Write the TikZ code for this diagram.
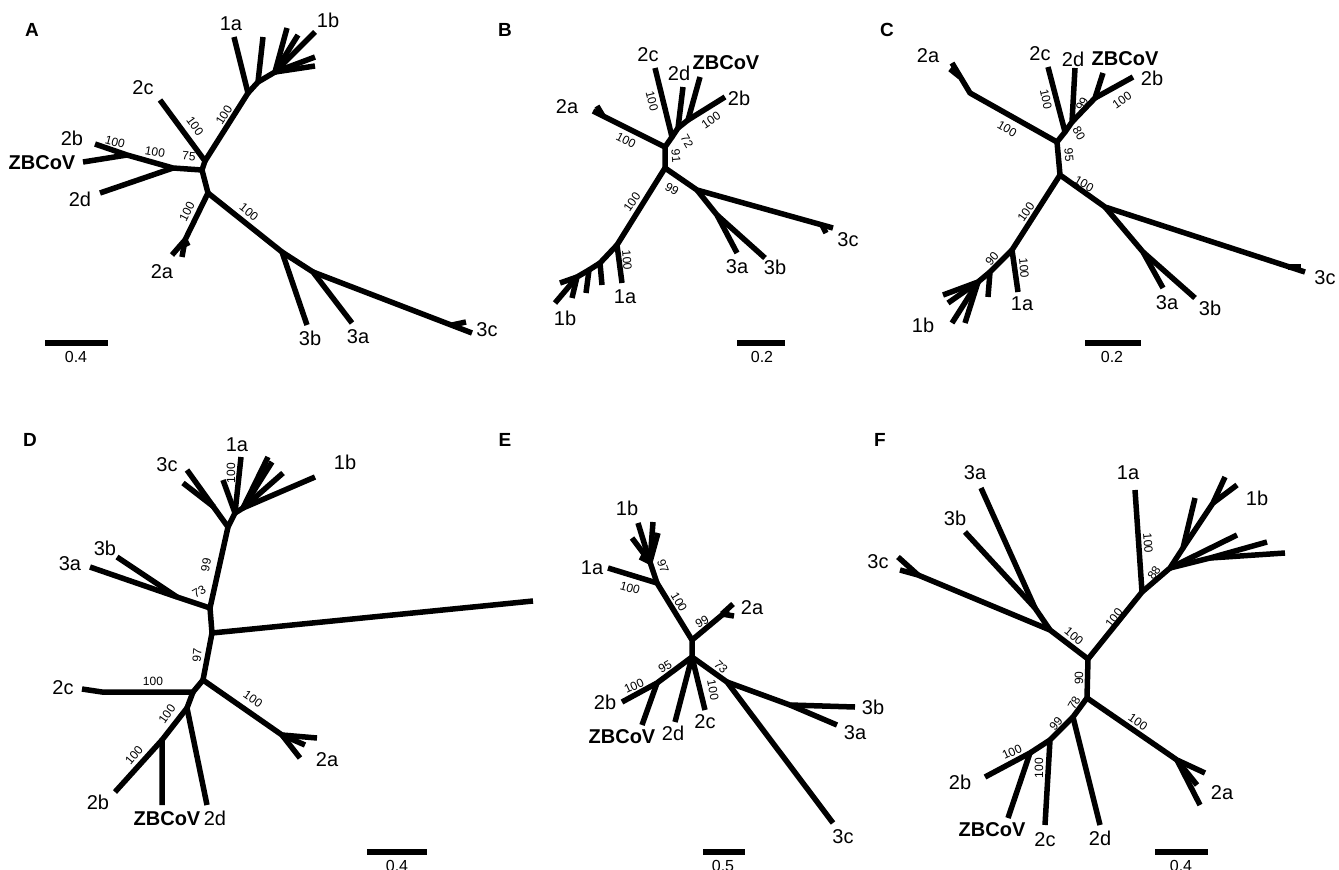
\documentclass[tikz,border=0pt]{standalone}
\usepackage{fontspec}
\setmainfont{Liberation Sans}
\begin{document}
\begin{tikzpicture}[x=1pt,y=-1pt,
 br/.style={line width=5.5pt, line cap=butt, line join=round},
 tl/.style={font=\fontsize{20}{22}\selectfont, inner sep=1pt},
 zb/.style={font=\bfseries\fontsize{20}{22}\selectfont, inner sep=1pt},
 bs/.style={font=\fontsize{12}{13}\selectfont, inner sep=0pt},
 pl/.style={font=\bfseries\fontsize{19}{21}\selectfont, inner sep=0pt},
 sbar/.style={line width=5.5pt},
 sl/.style={font=\fontsize{16}{17}\selectfont, inner sep=0pt}]
\useasboundingbox[fill=white] (0,0) rectangle (1339,870);

% ================= Panel A =================
\coordinate (Aj1) at (205,161); \coordinate (Aj2) at (202,170); \coordinate (Aj3) at (208,193);
\coordinate (A2c) at (160,100); \coordinate (Aj4) at (248,93); \coordinate (A1a) at (234,37);
\coordinate (Aj5) at (258,82); \coordinate (A1x) at (263,37); \coordinate (Aj6) at (275,72);
\coordinate (A1b1) at (287,28); \coordinate (A1b2) at (298,35); \coordinate (A1b3) at (315,32);
\coordinate (A1b4) at (315,57); \coordinate (A1b5) at (315,66);
\coordinate (Aj7) at (173,168); \coordinate (Aj8) at (127,155); \coordinate (A2b) at (95,144);
\coordinate (AZB) at (83,162); \coordinate (A2d) at (100,193);
\coordinate (Aj9) at (185,240); \coordinate (A2a1) at (172,255); \coordinate (A2a2) at (182,257); \coordinate (A2a3) at (188,246);
\coordinate (Aj10) at (282,252); \coordinate (A3b) at (307,325); \coordinate (Aj11) at (313,272);
\coordinate (A3a) at (352,323); \coordinate (A3c) at (472,333); \coordinate (Aj12) at (452,325); \coordinate (A3cx) at (466,322);
\draw[br] (A2c) -- (Aj1) -- (Aj4) -- (A1a);
\draw[br] (Aj4) -- (Aj5) -- (A1x);
\draw[br] (Aj5) -- (Aj6) -- (A1b1);
\draw[br] (Aj6) -- (A1b2); \draw[br] (Aj6) -- (A1b3); \draw[br] (Aj6) -- (A1b4); \draw[br] (Aj6) -- (A1b5);
\draw[br] (Aj1) -- (Aj2) -- (Aj3);
\draw[br] (Aj2) -- (Aj7) -- (Aj8) -- (A2b); \draw[br] (Aj8) -- (AZB); \draw[br] (Aj7) -- (A2d);
\draw[br] (Aj3) -- (Aj9) -- (A2a1); \draw[br] (Aj9) -- (A2a2); \draw[br] (Aj9) -- (A2a3);
\draw[br] (Aj3) -- (Aj10) -- (A3b); \draw[br] (Aj10) -- (Aj11) -- (A3a); \draw[br] (Aj11) -- (A3c); \draw[br] (Aj12) -- (A3cx);
\node[pl] (Apl) at (32,30) {A};
\node[tl] (Al1a) at (231,24) {1a}; \node[tl] (Al1b) at (328,20) {1b}; \node[tl] (Al2c) at (143,88) {2c};
\node[tl] (Al2b) at (72,138) {2b}; \node[zb] (AlZB) at (42,163) {ZBCoV}; \node[tl] (Al2d) at (80,199) {2d};
\node[tl] (Al2a) at (162,272) {2a}; \node[tl] (Al3b) at (310,338) {3b}; \node[tl] (Al3a) at (358,337) {3a}; \node[tl] (Al3c) at (487,330) {3c};
\node[bs,rotate=58] (Ab1) at (224,115) {100}; \node[bs,rotate=-54] (Ab2) at (195,126) {100};
\node[bs,rotate=-5] (Ab3) at (189,156) {75}; \node[bs,rotate=-10] (Ab4) at (155,152) {100};
\node[bs,rotate=-15] (Ab5) at (115,142) {100}; \node[bs,rotate=63] (Ab6) at (187,212) {100};
\node[bs,rotate=-39] (Ab7) at (249,212) {100};
\coordinate (As1) at (45,343); \coordinate (As2) at (108,343);
\draw[sbar] (As1) -- (As2); \node[sl] (Asl) at (76,357) {0.4};

% ================= Panel B =================
\coordinate (Bj1) at (665,147); \coordinate (B2a) at (593,111); \coordinate (Bf) at (603,116); \coordinate (B2ax) at (597,106);
\coordinate (Bj2) at (672,137); \coordinate (B2c) at (655,68); \coordinate (Bj3) at (678,128); \coordinate (B2d) at (683,87);
\coordinate (Bj4) at (688,120); \coordinate (BZB) at (700,77); \coordinate (B2b) at (725,97);
\coordinate (Bj5) at (665,168); \coordinate (Bj6) at (697,190); \coordinate (B3c) at (833,228);
\coordinate (Bf2) at (822,225); \coordinate (B3cx) at (826,233);
\coordinate (Bj7) at (717,215); \coordinate (B3a) at (737,253); \coordinate (B3b) at (765,258);
\coordinate (Bj8) at (617,245); \coordinate (B1a) at (622,283);
\coordinate (Bj9) at (600,263); \coordinate (B1x1) at (602,285);
\coordinate (Bj10) at (589,270); \coordinate (B1x2) at (586,293);
\coordinate (Bj11) at (577,277); \coordinate (B1b1) at (572,298); \coordinate (B1b2) at (555,303); \coordinate (B1b3) at (560,283);
\draw[br] (B2a) -- (Bj1) -- (Bj2) -- (B2c); \draw[br] (Bf) -- (B2ax);
\draw[br] (Bj2) -- (Bj3) -- (B2d); \draw[br] (Bj3) -- (Bj4) -- (BZB); \draw[br] (Bj4) -- (B2b);
\draw[br] (Bj1) -- (Bj5) -- (Bj6) -- (B3c); \draw[br] (Bf2) -- (B3cx);
\draw[br] (Bj6) -- (Bj7) -- (B3a); \draw[br] (Bj7) -- (B3b);
\draw[br] (Bj5) -- (Bj8) -- (B1a);
\draw[br] (Bj8) -- (Bj9) -- (B1x1); \draw[br] (Bj9) -- (Bj10) -- (B1x2);
\draw[br] (Bj10) -- (Bj11) -- (B1b1); \draw[br] (Bj11) -- (B1b2); \draw[br] (Bj11) -- (B1b3);
\node[pl] (Bpl) at (505,30) {B};
\node[tl] (Bl2c) at (648,55) {2c}; \node[tl] (Bl2d) at (679,73) {2d}; \node[zb] (BlZB) at (726,63) {ZBCoV};
\node[tl] (Bl2b) at (739,98) {2b}; \node[tl] (Bl2a) at (567,107) {2a}; \node[tl] (Bl3c) at (848,240) {3c};
\node[tl] (Bl3a) at (737,267) {3a}; \node[tl] (Bl3b) at (775,267) {3b}; \node[tl] (Bl1a) at (625,297) {1a}; \node[tl] (Bl1b) at (565,318) {1b};
\node[bs,rotate=-76] (Bb1) at (652,101) {100}; \node[bs,rotate=-27] (Bb2) at (626,140) {100};
\node[bs,rotate=-60] (Bb3) at (687,141) {72}; \node[bs,rotate=35] (Bb4) at (711,120) {100};
\node[bs,rotate=-85] (Bb5) at (676,156) {91}; \node[bs,rotate=-30] (Bb6) at (672,189) {99};
\node[bs,rotate=55] (Bb7) at (632,202) {100}; \node[bs,rotate=-85] (Bb8) at (627,260) {100};
\coordinate (Bs1) at (737,343); \coordinate (Bs2) at (785,343);
\draw[sbar] (Bs1) -- (Bs2); \node[sl] (Bsl) at (762,357) {0.2};

% ================= Panel C =================
\coordinate (Cj1) at (1057,142); \coordinate (Cb) at (970,93); \coordinate (C2a) at (952,63);
\coordinate (Cbb) at (960,77); \coordinate (C2ax) at (950,69);
\coordinate (Cj2) at (1065,132); \coordinate (C2c) at (1048,67); \coordinate (Cj3) at (1072,122); \coordinate (C2d) at (1075,68);
\coordinate (Cj4) at (1095,98); \coordinate (CZB) at (1103,73); \coordinate (C2b) at (1133,77);
\coordinate (Cj5) at (1060,175); \coordinate (Cj6) at (1105,207); \coordinate (C3c) at (1305,272);
\coordinate (Cf) at (1288,267); \coordinate (C3cx) at (1301,267);
\coordinate (Cj7) at (1143,252); \coordinate (C3a) at (1163,288); \coordinate (C3b) at (1195,298);
\coordinate (Cj8) at (1012,250); \coordinate (C1a) at (1018,292);
\coordinate (Cj9) at (990,272); \coordinate (C1x) at (988,297);
\coordinate (Cj10) at (978,282); \coordinate (C1b1) at (943,295); \coordinate (C1b2) at (948,303);
\coordinate (C1b3) at (952,323); \coordinate (C1b4) at (965,323);
\draw[br] (C2a) -- (Cb) -- (Cj1) -- (Cj2) -- (C2c); \draw[br] (Cbb) -- (C2ax);
\draw[br] (Cj2) -- (Cj3) -- (C2d); \draw[br] (Cj3) -- (Cj4) -- (CZB); \draw[br] (Cj4) -- (C2b);
\draw[br] (Cj1) -- (Cj5) -- (Cj6) -- (C3c); \draw[br] (Cf) -- (C3cx);
\draw[br] (Cj6) -- (Cj7) -- (C3a); \draw[br] (Cj7) -- (C3b);
\draw[br] (Cj5) -- (Cj8) -- (C1a); \draw[br] (Cj8) -- (Cj9) -- (C1x);
\draw[br] (Cj9) -- (Cj10) -- (C1b1); \draw[br] (Cj10) -- (C1b2); \draw[br] (Cj10) -- (C1b3); \draw[br] (Cj10) -- (C1b4);
\node[pl] (Cpl) at (887,30) {C};
\node[tl] (Cl2a) at (928,56) {2a}; \node[tl] (Cl2c) at (1040,54) {2c}; \node[tl] (Cl2d) at (1073,59) {2d};
\node[zb] (ClZB) at (1125,59) {ZBCoV}; \node[tl] (Cl2b) at (1152,78) {2b}; \node[tl] (Cl3c) at (1325,278) {3c};
\node[tl] (Cl3a) at (1167,303) {3a}; \node[tl] (Cl3b) at (1210,308) {3b}; \node[tl] (Cl1a) at (1022,304) {1a}; \node[tl] (Cl1b) at (923,325) {1b};
\node[bs,rotate=-30] (Cb1) at (1007,129) {100}; \node[bs,rotate=-78] (Cb2) at (1046,99) {100};
\node[bs,rotate=-60] (Cb3) at (1079,133) {80}; \node[bs,rotate=60] (Cb4) at (1082,104) {99};
\node[bs,rotate=35] (Cb5) at (1122,100) {100}; \node[bs,rotate=-85] (Cb6) at (1069,155) {95};
\node[bs,rotate=-30] (Cb7) at (1084,184) {100}; \node[bs,rotate=55] (Cb8) at (1026,212) {100};
\node[bs,rotate=-85] (Cb9) at (1024,268) {100}; \node[bs,rotate=50] (Cb10) at (992,259) {90};
\coordinate (Cs1) at (1085,343); \coordinate (Cs2) at (1141,343);
\draw[sbar] (Cs1) -- (Cs2); \node[sl] (Csl) at (1112,357) {0.2};

% ================= Panel D =================
\coordinate (Dj1) at (228,527); \coordinate (D3c1) at (187,470); \coordinate (Dj1a) at (214,507); \coordinate (D3c2) at (183,483);
\coordinate (Dj2) at (235,513); \coordinate (D1x) at (223,480); \coordinate (D1a) at (241,457);
\coordinate (Dj3) at (243,508); \coordinate (D1b1) at (268,457); \coordinate (D1b2) at (272,462);
\coordinate (D1b3) at (283,473); \coordinate (D1b4) at (315,477);
\coordinate (Dj4) at (210,608); \coordinate (D3a) at (90,567); \coordinate (Dj5) at (177,597); \coordinate (D3b) at (117,557);
\coordinate (Dj6) at (212,633); \coordinate (D1bl) at (533,601);
\coordinate (Dj7) at (203,680); \coordinate (Dj2a) at (282,735);
\coordinate (D2a1) at (317,738); \coordinate (D2a2) at (305,745); \coordinate (D2a3) at (300,758);
\coordinate (Dj8) at (193,692); \coordinate (Dk) at (102,692); \coordinate (D2c) at (82,689);
\coordinate (Dj9) at (187,708); \coordinate (D2d) at (207,805);
\coordinate (Dj10) at (162,740); \coordinate (DZB) at (162,805); \coordinate (D2b) at (115,792);
\draw[br] (D3c1) -- (Dj1) -- (Dj2) -- (D1a); \draw[br] (Dj1a) -- (D3c2); \draw[br] (Dj2) -- (D1x);
\draw[br] (Dj2) -- (Dj3) -- (D1b1); \draw[br] (Dj3) -- (D1b2); \draw[br] (Dj3) -- (D1b3); \draw[br] (Dj3) -- (D1b4);
\draw[br] (Dj1) -- (Dj4) -- (Dj5) -- (D3a); \draw[br] (Dj5) -- (D3b);
\draw[br] (Dj4) -- (Dj6) -- (D1bl); \draw[br] (Dj6) -- (Dj7) -- (Dj2a) -- (D2a1);
\draw[br] (Dj2a) -- (D2a2); \draw[br] (Dj2a) -- (D2a3);
\draw[br] (Dj7) -- (Dj8) -- (Dk) -- (D2c);
\draw[br] (Dj8) -- (Dj9) -- (D2d); \draw[br] (Dj9) -- (Dj10) -- (DZB); \draw[br] (Dj10) -- (D2b);
\node[pl] (Dpl) at (30,440) {D};
\node[tl] (Dl3c) at (167,465) {3c}; \node[tl] (Dl1a) at (237,445) {1a}; \node[tl] (Dl3b) at (105,548) {3b};
\node[tl] (Dl3a) at (70,564) {3a}; \node[tl] (Dl1b) at (345,462) {1b}; \node[tl] (Dl2c) at (63,688) {2c};
\node[tl] (Dl2a) at (327,760) {2a}; \node[tl] (Dl2b) at (98,802) {2b}; \node[zb] (DlZB) at (167,819) {ZBCoV}; \node[tl] (Dl2d) at (215,818) {2d};
\node[bs,rotate=90] (Db1) at (231,473) {100}; \node[bs,rotate=80] (Db2) at (206,565) {99};
\node[bs,rotate=30] (Db3) at (199,592) {73}; \node[bs,rotate=85] (Db4) at (197,655) {97};
\node[bs] (Db5) at (153,681) {100}; \node[bs,rotate=-35] (Db6) at (253,699) {100};
\node[bs,rotate=55] (Db7) at (167,714) {100}; \node[bs,rotate=50] (Db8) at (134,755) {100};
\coordinate (Ds1) at (367,852); \coordinate (Ds2) at (427,852);
\draw[sbar] (Ds1) -- (Ds2); \node[sl] (Dsl) at (397,866) {0.4};

% ================= Panel E =================
\coordinate (Ej1) at (692,640); \coordinate (Ej2) at (692,657); \coordinate (Ej3) at (657,583);
\coordinate (E2a) at (728,610); \coordinate (Ejf) at (722,614); \coordinate (E2a1) at (733,604); \coordinate (E2a2) at (734,616);
\coordinate (E1a) at (608,568); \coordinate (Ej4) at (650,562);
\coordinate (E1b1) at (638,523); \coordinate (E1b2) at (632,538); \coordinate (E1b3) at (653,522);
\coordinate (E1b4) at (658,533); \coordinate (E1b5) at (640,557);
\coordinate (Ej5) at (657,683); \coordinate (E2b) at (622,702); \coordinate (EZB) at (642,725);
\coordinate (E2d) at (675,722); \coordinate (E2c) at (705,710);
\coordinate (Ej6) at (727,682); \coordinate (E3c) at (833,823); \coordinate (Ej7) at (790,705);
\coordinate (E3b) at (855,707); \coordinate (E3a) at (837,725);
\draw[br] (Ej2) -- (Ej1) -- (Ej3) -- (E1a); \draw[br] (Ej1) -- (E2a); \draw[br] (Ejf) -- (E2a1); \draw[br] (Ejf) -- (E2a2);
\draw[br] (Ej3) -- (Ej4) -- (E1b1); \draw[br] (Ej4) -- (E1b2); \draw[br] (Ej4) -- (E1b3); \draw[br] (Ej4) -- (E1b4); \draw[br] (Ej4) -- (E1b5);
\draw[br] (Ej2) -- (Ej5) -- (E2b); \draw[br] (Ej5) -- (EZB);
\draw[br] (Ej2) -- (E2d); \draw[br] (Ej2) -- (E2c);
\draw[br] (Ej2) -- (Ej6) -- (E3c); \draw[br] (Ej6) -- (Ej7) -- (E3b); \draw[br] (Ej7) -- (E3a);
\node[pl] (Epl) at (505,440) {E};
\node[tl] (El1b) at (627,508) {1b}; \node[tl] (El1a) at (592,568) {1a}; \node[tl] (El2a) at (752,608) {2a};
\node[tl] (El2b) at (605,702) {2b}; \node[zb] (ElZB) at (622,737) {ZBCoV}; \node[tl] (El2d) at (673,733) {2d};
\node[tl] (El2c) at (705,722) {2c}; \node[tl] (El3b) at (873,707) {3b}; \node[tl] (El3a) at (855,733) {3a}; \node[tl] (El3c) at (843,837) {3c};
\node[bs,rotate=-70] (Eb1) at (663,566) {97}; \node[bs,rotate=-15] (Eb2) at (630,588) {100};
\node[bs,rotate=-60] (Eb3) at (679,602) {100}; \node[bs,rotate=30] (Eb4) at (702,622) {99};
\node[bs,rotate=30] (Eb5) at (665,667) {95}; \node[bs,rotate=25] (Eb6) at (634,686) {100};
\node[bs,rotate=-80] (Eb7) at (713,690) {100}; \node[bs,rotate=-45] (Eb8) at (721,667) {73};
\coordinate (Es1) at (703,852); \coordinate (Es2) at (745,852);
\draw[sbar] (Es1) -- (Es2); \node[sl] (Esl) at (723,866) {0.5};

% ================= Panel F =================
\coordinate (Fj1) at (1088,659); \coordinate (Fj2) at (1050,630); \coordinate (Fjf) at (918,575);
\coordinate (F3c1) at (898,557); \coordinate (F3c2) at (900,570);
\coordinate (Fjab) at (1035,608); \coordinate (F3b) at (965,532); \coordinate (F3a) at (981,488);
\coordinate (Fj3) at (1142,592); \coordinate (F1a) at (1135,490);
\coordinate (Fj4) at (1170,568); \coordinate (Fj4a) at (1183,548); \coordinate (F1b1) at (1195,498);
\coordinate (Fj4b) at (1213,503); \coordinate (F1b2) at (1225,477); \coordinate (F1b3) at (1237,485);
\coordinate (F1b4) at (1237,535); \coordinate (Fj4c) at (1210,558); \coordinate (F1b5) at (1267,542); \coordinate (F1b6) at (1285,553);
\coordinate (Fj5) at (1087,698); \coordinate (Fj2a) at (1177,760);
\coordinate (F2a1) at (1205,773); \coordinate (F2a2) at (1197,785); \coordinate (F2a3) at (1200,805);
\coordinate (Fj6) at (1073,717); \coordinate (F2d) at (1100,825);
\coordinate (Fj7) at (1050,740); \coordinate (F2c) at (1045,825);
\coordinate (Fj8) at (1030,753); \coordinate (F2b) at (985,777); \coordinate (FZB) at (1008,818);
\draw[br] (Fj5) -- (Fj1) -- (Fj2) -- (Fjf) -- (F3c2); \draw[br] (Fjf) -- (F3c1);
\draw[br] (Fj2) -- (Fjab) -- (F3b); \draw[br] (Fjab) -- (F3a);
\draw[br] (Fj1) -- (Fj3) -- (F1a); \draw[br] (Fj3) -- (Fj4) -- (Fj4a) -- (F1b1);
\draw[br] (Fj4a) -- (Fj4b) -- (F1b2); \draw[br] (Fj4b) -- (F1b3);
\draw[br] (Fj4) -- (F1b4); \draw[br] (Fj4) -- (Fj4c) -- (F1b5); \draw[br] (Fj4c) -- (F1b6);
\draw[br] (Fj5) -- (Fj2a) -- (F2a1); \draw[br] (Fj2a) -- (F2a2); \draw[br] (Fj2a) -- (F2a3);
\draw[br] (Fj5) -- (Fj6) -- (F2d); \draw[br] (Fj6) -- (Fj7) -- (F2c);
\draw[br] (Fj7) -- (Fj8) -- (F2b); \draw[br] (Fj8) -- (FZB);
\node[pl] (Fpl) at (880,440) {F};
\node[tl] (Fl3a) at (975,473) {3a}; \node[tl] (Fl1a) at (1128,473) {1a}; \node[tl] (Fl1b) at (1257,498) {1b};
\node[tl] (Fl3b) at (955,518) {3b}; \node[tl] (Fl3c) at (878,562) {3c}; \node[tl] (Fl2a) at (1222,793) {2a};
\node[tl] (Fl2b) at (960,782) {2b}; \node[zb] (FlZB) at (992,830) {ZBCoV}; \node[tl] (Fl2c) at (1045,840) {2c}; \node[tl] (Fl2d) at (1100,838) {2d};
\node[bs,rotate=-40] (Fb1) at (1074,636) {100}; \node[bs,rotate=52] (Fb2) at (1114,618) {100};
\node[bs,rotate=-85] (Fb3) at (1148,543) {100}; \node[bs,rotate=55] (Fb4) at (1154,573) {88};
\node[bs,rotate=90] (Fb5) at (1079,678) {90}; \node[bs,rotate=-35] (Fb6) at (1138,722) {100};
\node[bs,rotate=60] (Fb7) at (1074,703) {78}; \node[bs,rotate=50] (Fb8) at (1056,724) {99};
\node[bs,rotate=90] (Fb9) at (1039,768) {100}; \node[bs,rotate=25] (Fb10) at (1012,752) {100};
\coordinate (Fs1) at (1155,852); \coordinate (Fs2) at (1208,852);
\draw[sbar] (Fs1) -- (Fs2); \node[sl] (Fsl) at (1181,866) {0.4};
\end{tikzpicture}
\end{document}
